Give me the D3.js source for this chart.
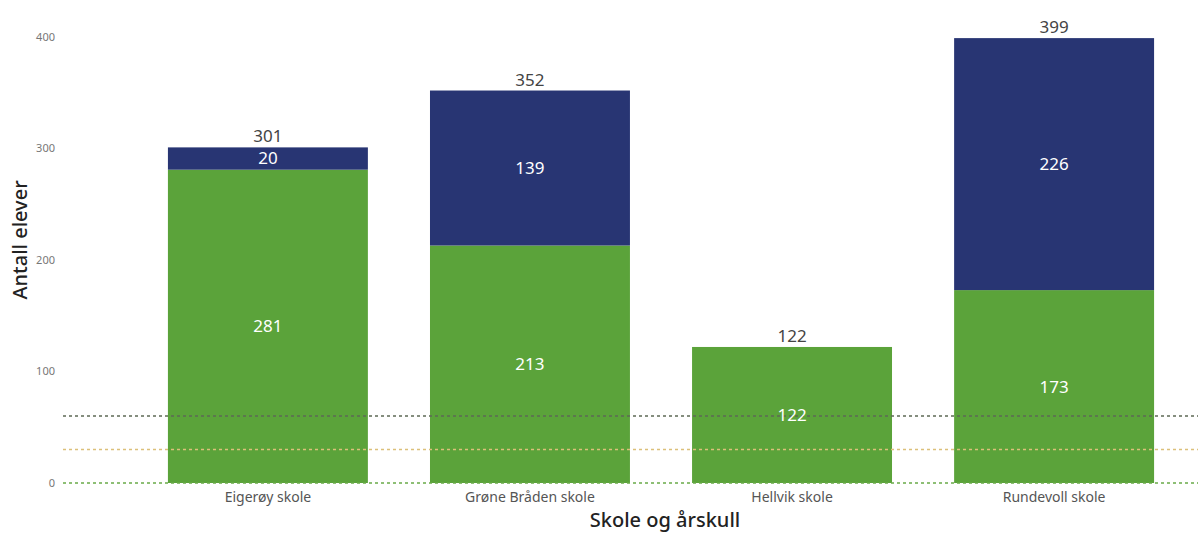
<!DOCTYPE html>
<html><head><meta charset="utf-8">
<script src="https://cdn.jsdelivr.net/npm/d3@7/dist/d3.min.js"></script>
<style>body{margin:0;background:#fff;} svg{display:block;font-family:"Noto Sans","Open Sans",sans-serif;}</style>
</head><body>
<svg id="c" width="1198" height="533"></svg>
<script>
const categories = ["Eigerøy skole","Grøne Bråden skole","Hellvik skole","Rundevoll skole"];
const greenValues = [281, 213, 122, 173];
const navyValues = [20, 139, 0, 226];
const yTicks = [0, 100, 200, 300, 400];
const refLines = [{v:60,c:"#5d6a55"},{v:30,c:"#dcc07a"},{v:0,c:"#6aab48"}];

const svg = d3.select("#c");
const x = d3.scaleBand().domain(categories).range([137,1185]).paddingInner(0.237).paddingOuter(0.118);
const y = d3.scaleLinear().domain([0,400]).range([483,37]);

const data = categories.map((c,i)=>({c, g:greenValues[i], n:navyValues[i], t:greenValues[i]+navyValues[i]}));

// y tick labels
svg.append("g").selectAll("text").data(yTicks).join("text")
  .attr("x",55).attr("y",d=>y(d)).attr("dy","0.35em").attr("text-anchor","end")
  .attr("font-size",11).attr("fill","#777").text(d=>d);

// bars
svg.append("g").selectAll("rect").data(data).join("rect")
  .attr("x",d=>x(d.c)).attr("width",x.bandwidth())
  .attr("y",d=>y(d.g)).attr("height",d=>y(0)-y(d.g)).attr("fill","#5ba33a");
svg.append("g").selectAll("rect").data(data.filter(d=>d.n>0)).join("rect")
  .attr("x",d=>x(d.c)).attr("width",x.bandwidth())
  .attr("y",d=>y(d.t)).attr("height",d=>y(d.g)-y(d.t)).attr("fill","#283573");

// reference lines
svg.append("g").selectAll("line").data(refLines).join("line")
  .attr("x1",63).attr("x2",1198).attr("y1",d=>y(d.v)).attr("y2",d=>y(d.v))
  .attr("stroke",d=>d.c).attr("stroke-width",1.5).attr("stroke-dasharray","3,3");

// inside labels
svg.append("g").selectAll("text").data(data).join("text")
  .attr("x",d=>x(d.c)+x.bandwidth()/2).attr("y",d=>y(d.g/2)).attr("dy","0.35em")
  .attr("text-anchor","middle").attr("font-size",17).attr("fill","#fff").text(d=>d.g);
svg.append("g").selectAll("text").data(data.filter(d=>d.n>0)).join("text")
  .attr("x",d=>x(d.c)+x.bandwidth()/2).attr("y",d=>y(d.g+d.n/2)).attr("dy","0.35em")
  .attr("text-anchor","middle").attr("font-size",17).attr("fill","#fff").text(d=>d.n);
// totals
svg.append("g").selectAll("text").data(data).join("text")
  .attr("x",d=>x(d.c)+x.bandwidth()/2).attr("y",d=>y(d.t)-5)
  .attr("text-anchor","middle").attr("font-size",17).attr("fill","#444").text(d=>d.t);

// x tick labels
svg.append("g").selectAll("text").data(categories).join("text")
  .attr("x",d=>x(d)+x.bandwidth()/2).attr("y",497).attr("dy","0.35em")
  .attr("text-anchor","middle").attr("font-size",14).attr("fill","#555").text(d=>d);

// axis titles
svg.append("text").attr("x",665).attr("y",527).attr("text-anchor","middle")
  .attr("font-size",20).attr("font-weight",500).attr("fill","#222").text("Skole og årskull");
svg.append("text").attr("transform","translate(27,240) rotate(-90)").attr("text-anchor","middle")
  .attr("font-size",20).attr("font-weight",500).attr("fill","#222").text("Antall elever");
</script>
</body></html>
